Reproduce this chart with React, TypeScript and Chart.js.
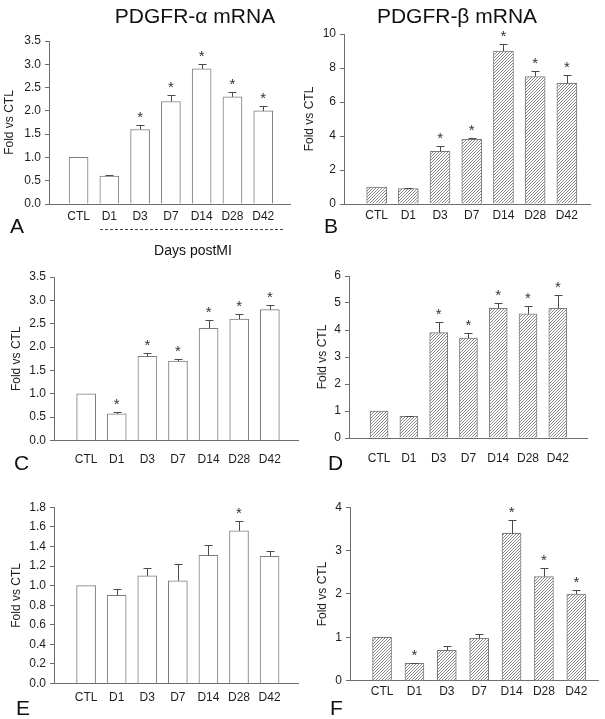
import React, { useEffect, useRef } from 'react';
import { Chart, registerables } from 'chart.js';

Chart.register(...registerables);

const FONT = '"Liberation Sans", Arial, Helvetica, sans-serif';

// ---- data ----
const categories = ['CTL', 'D1', 'D3', 'D7', 'D14', 'D28', 'D42'];

// A: PDGFR-α mRNA (row 1)
const aValues = [1.0, 0.6, 1.6, 2.2, 2.9, 2.3, 2.0];
const aErrors = [0, 0.02, 0.1, 0.15, 0.1, 0.1, 0.1];
const aSignificant = [false, false, true, true, true, true, true];
const aTicks = [0, 0.5, 1.0, 1.5, 2.0, 2.5, 3.0, 3.5];

// B: PDGFR-β mRNA (row 1)
const bValues = [1.0, 0.9, 3.1, 3.8, 9.0, 7.5, 7.1];
const bErrors = [0, 0.05, 0.3, 0.08, 0.4, 0.3, 0.5];
const bSignificant = [false, false, true, true, true, true, true];
const bTicks = [0, 2, 4, 6, 8, 10];

// C: PDGFR-α mRNA (row 2)
const cValues = [1.0, 0.57, 1.8, 1.7, 2.4, 2.6, 2.8];
const cErrors = [0, 0.04, 0.07, 0.05, 0.18, 0.1, 0.1];
const cSignificant = [false, true, true, true, true, true, true];
const cTicks = [0, 0.5, 1.0, 1.5, 2.0, 2.5, 3.0, 3.5];

// D: PDGFR-β mRNA (row 2)
const dValues = [1.0, 0.8, 3.9, 3.7, 4.8, 4.6, 4.8];
const dErrors = [0, 0.03, 0.4, 0.2, 0.2, 0.3, 0.5];
const dSignificant = [false, false, true, true, true, true, true];
const dTicks = [0, 1, 2, 3, 4, 5, 6];

// E: PDGFR-α mRNA (row 3)
const eValues = [1.0, 0.9, 1.1, 1.05, 1.31, 1.56, 1.3];
const eErrors = [0, 0.07, 0.08, 0.17, 0.1, 0.1, 0.05];
const eSignificant = [false, false, false, false, false, true, false];
const eTicks = [0, 0.2, 0.4, 0.6, 0.8, 1.0, 1.2, 1.4, 1.6, 1.8];

// F: PDGFR-β mRNA (row 3)
const fValues = [1.0, 0.4, 0.7, 0.98, 3.4, 2.4, 2.0];
const fErrors = [0, 0.01, 0.1, 0.09, 0.3, 0.2, 0.1];
const fSignificant = [false, true, false, false, true, true, true];
const fTicks = [0, 1, 2, 3, 4];

const yTitle = 'Fold vs CTL';

type Box = { left: number; top: number; width: number; height: number };
type Area = { left: number; right: number; top: number; bottom: number };
type PanelCfg = {
  values: number[];
  errors: number[];
  significant: boolean[];
  ticks: number[];
  decimals: number;
  hatched: boolean;
  box: Box;
  area: Area;
  xMin: number;
  xMax: number;
  barThickness: number;
  titlePad: number;
  labelPad: number;
};

const panels: PanelCfg[] = [
  {
    values: aValues, errors: aErrors, significant: aSignificant, ticks: aTicks, decimals: 1, hatched: false,
    box: { left: 0, top: 0, width: 300, height: 232 },
    area: { left: 49, right: 290, top: 41, bottom: 204 },
    xMin: -0.96, xMax: 6.87, barThickness: 19, titlePad: 2.8, labelPad: 5,
  },
  {
    values: bValues, errors: bErrors, significant: bSignificant, ticks: bTicks, decimals: 0, hatched: true,
    box: { left: 300, top: 0, width: 305, height: 232 },
    area: { left: 44, right: 290, top: 34, bottom: 204 },
    xMin: -1.03, xMax: 6.73, barThickness: 20, titlePad: 2.8, labelPad: 4,
  },
  {
    values: cValues, errors: cErrors, significant: cSignificant, ticks: cTicks, decimals: 1, hatched: false,
    box: { left: 0, top: 240, width: 300, height: 235 },
    area: { left: 54, right: 298, top: 37, bottom: 200.5 },
    xMin: -1.05, xMax: 6.92, barThickness: 19, titlePad: 9.8, labelPad: 12,
  },
  {
    values: dValues, errors: dErrors, significant: dSignificant, ticks: dTicks, decimals: 0, hatched: true,
    box: { left: 300, top: 240, width: 305, height: 235 },
    area: { left: 49, right: 287, top: 36, bottom: 198 },
    xMin: -1.01, xMax: 6.98, barThickness: 18, titlePad: 15.8, labelPad: 13,
  },
  {
    values: eValues, errors: eErrors, significant: eSignificant, ticks: eTicks, decimals: 1, hatched: false,
    box: { left: 0, top: 480, width: 300, height: 239 },
    area: { left: 54, right: 298, top: 27.3, bottom: 203.5 },
    xMin: -1.05, xMax: 6.93, barThickness: 19, titlePad: 9.8, labelPad: 7,
  },
  {
    values: fValues, errors: fErrors, significant: fSignificant, ticks: fTicks, decimals: 0, hatched: true,
    box: { left: 300, top: 480, width: 305, height: 239 },
    area: { left: 50, right: 298, top: 27.3, bottom: 200.7 },
    xMin: -0.99, xMax: 6.67, barThickness: 19, titlePad: 15.8, labelPad: 4,
  },
];

const AXIS_COLOR = '#6e6e6e';
const BAR_BORDER = '#7c7c7c';
const TEXT_COLOR = '#1e1e1e';

function makeHatch(): CanvasPattern | string {
  const n = 3;
  const c = document.createElement('canvas');
  c.width = n;
  c.height = n;
  const g = c.getContext('2d');
  if (!g) return '#bcbcbc';
  g.fillStyle = '#ffffff';
  g.fillRect(0, 0, n, n);
  g.strokeStyle = '#8a8a8a';
  g.lineWidth = 1;
  g.beginPath();
  g.moveTo(0, n);
  g.lineTo(n, 0);
  g.moveTo(-1, 1);
  g.lineTo(1, -1);
  g.moveTo(n - 1, n + 1);
  g.lineTo(n + 1, n - 1);
  g.stroke();
  return g.createPattern(c, 'repeat') || '#bcbcbc';
}

function Panel({ cfg }: { cfg: PanelCfg }) {
  const ref = useRef<HTMLCanvasElement>(null);
  useEffect(() => {
    if (!ref.current) return;
    const { values, errors, significant, ticks, decimals, box, area } = cfg;
    const errorPlugin = {
      id: 'errorBarsAndStars',
      afterDatasetsDraw(chart: any) {
        const ctx = chart.ctx as CanvasRenderingContext2D;
        const yScale = chart.scales.y;
        const meta = chart.getDatasetMeta(0);
        ctx.save();
        ctx.strokeStyle = '#4a4a4a';
        ctx.lineWidth = 1;
        ctx.fillStyle = '#333333';
        ctx.font = `15px ${FONT}`;
        ctx.textAlign = 'center';
        ctx.textBaseline = 'alphabetic';
        meta.data.forEach((el: any, i: number) => {
          const x = Math.round(el.x) + 0.5;
          const top = yScale.getPixelForValue(values[i] + errors[i]);
          if (errors[i] > 0) {
            const t = Math.round(top) + 0.5;
            ctx.beginPath();
            ctx.moveTo(x, el.y);
            ctx.lineTo(x, t);
            ctx.moveTo(x - 4, t);
            ctx.lineTo(x + 4, t);
            ctx.stroke();
          }
          if (significant[i]) {
            ctx.fillText('*', el.x, top - 3);
          }
        });
        ctx.restore();
      },
    };

    const chart = new Chart(ref.current, {
      type: 'bar',
      data: {
        datasets: [
          {
            data: values.map((v, i) => ({ x: i, y: v })),
            backgroundColor: cfg.hatched ? makeHatch() : '#ffffff',
            borderColor: BAR_BORDER,
            borderWidth: 1,
            borderSkipped: 'start',
            barThickness: cfg.barThickness,
          } as any,
        ],
      },
      options: {
        responsive: false,
        animation: false,
        events: [],
        layout: {
          padding: { left: 0, top: area.top, right: box.width - area.right, bottom: 0 },
        },
        plugins: {
          legend: { display: false },
          title: { display: false },
          tooltip: { enabled: false },
        },
        scales: {
          x: {
            type: 'linear',
            min: cfg.xMin,
            max: cfg.xMax,
            bounds: 'data',
            offset: false,
            grid: { display: false, drawTicks: false },
            border: { display: true, color: AXIS_COLOR, width: 1 },
            afterBuildTicks: (s: any) => {
              s.ticks = categories.map((_, i) => ({ value: i }));
            },
            afterFit: (s: any) => {
              s.height = box.height - area.bottom;
            },
            ticks: {
              autoSkip: false,
              maxRotation: 0,
              minRotation: 0,
              padding: cfg.labelPad,
              color: TEXT_COLOR,
              font: { family: FONT, size: 12 },
              callback: (v: any) => categories[Math.round(Number(v))] ?? '',
            },
          },
          y: {
            type: 'linear',
            min: ticks[0],
            max: ticks[ticks.length - 1],
            afterBuildTicks: (s: any) => {
              s.ticks = ticks.map((t) => ({ value: t }));
            },
            afterFit: (s: any) => {
              s.width = area.left;
            },
            grid: {
              display: true,
              drawOnChartArea: false,
              drawTicks: true,
              tickLength: 4,
              color: AXIS_COLOR,
              tickColor: AXIS_COLOR,
            },
            border: { display: true, color: AXIS_COLOR, width: 1 },
            ticks: {
              padding: 4,
              color: TEXT_COLOR,
              font: { family: FONT, size: 12 },
              callback: (v: any) => Number(v).toFixed(decimals),
            },
            title: {
              display: true,
              text: yTitle,
              color: TEXT_COLOR,
              font: { family: FONT, size: 12 },
              padding: { top: cfg.titlePad, bottom: 0 },
            },
          },
        },
      } as any,
      plugins: [errorPlugin],
    });
    return () => chart.destroy();
  }, [cfg]);

  return (
    <canvas
      ref={ref}
      width={cfg.box.width}
      height={cfg.box.height}
      style={{
        position: 'absolute',
        left: cfg.box.left,
        top: cfg.box.top,
        width: cfg.box.width,
        height: cfg.box.height,
      }}
    />
  );
}

const panelLetters = [
  { text: 'A', left: 10, top: 215 },
  { text: 'B', left: 324, top: 215 },
  { text: 'C', left: 14, top: 452 },
  { text: 'D', left: 328, top: 452 },
  { text: 'E', left: 16, top: 697 },
  { text: 'F', left: 330, top: 697 },
];

export default function App() {
  return (
    <div
      style={{
        position: 'absolute',
        left: 0,
        top: 0,
        width: 605,
        height: 719,
        background: '#ffffff',
        fontFamily: FONT,
        overflow: 'hidden',
      }}
    >
      {panels.map((p, i) => (
        <Panel key={i} cfg={p} />
      ))}
      <div
        style={{
          position: 'absolute',
          left: 95,
          width: 200,
          top: 4,
          textAlign: 'center',
          fontSize: 21,
          lineHeight: '24px',
          color: '#111',
        }}
      >
        PDGFR-α mRNA
      </div>
      <div
        style={{
          position: 'absolute',
          left: 357,
          width: 200,
          top: 4,
          textAlign: 'center',
          fontSize: 21,
          lineHeight: '24px',
          color: '#111',
        }}
      >
        PDGFR-β mRNA
      </div>
      <div
        style={{
          position: 'absolute',
          left: 100,
          width: 183,
          top: 229,
          height: 0,
          borderTop: '1px dashed #444',
        }}
      />
      <div
        style={{
          position: 'absolute',
          left: 133,
          width: 120,
          top: 241,
          textAlign: 'center',
          fontSize: 14,
          lineHeight: '18px',
          color: '#111',
        }}
      >
        Days postMI
      </div>
      {panelLetters.map((l) => (
        <div
          key={l.text}
          style={{
            position: 'absolute',
            left: l.left,
            top: l.top,
            fontSize: 21,
            lineHeight: '21px',
            color: '#111',
          }}
        >
          {l.text}
        </div>
      ))}
    </div>
  );
}
